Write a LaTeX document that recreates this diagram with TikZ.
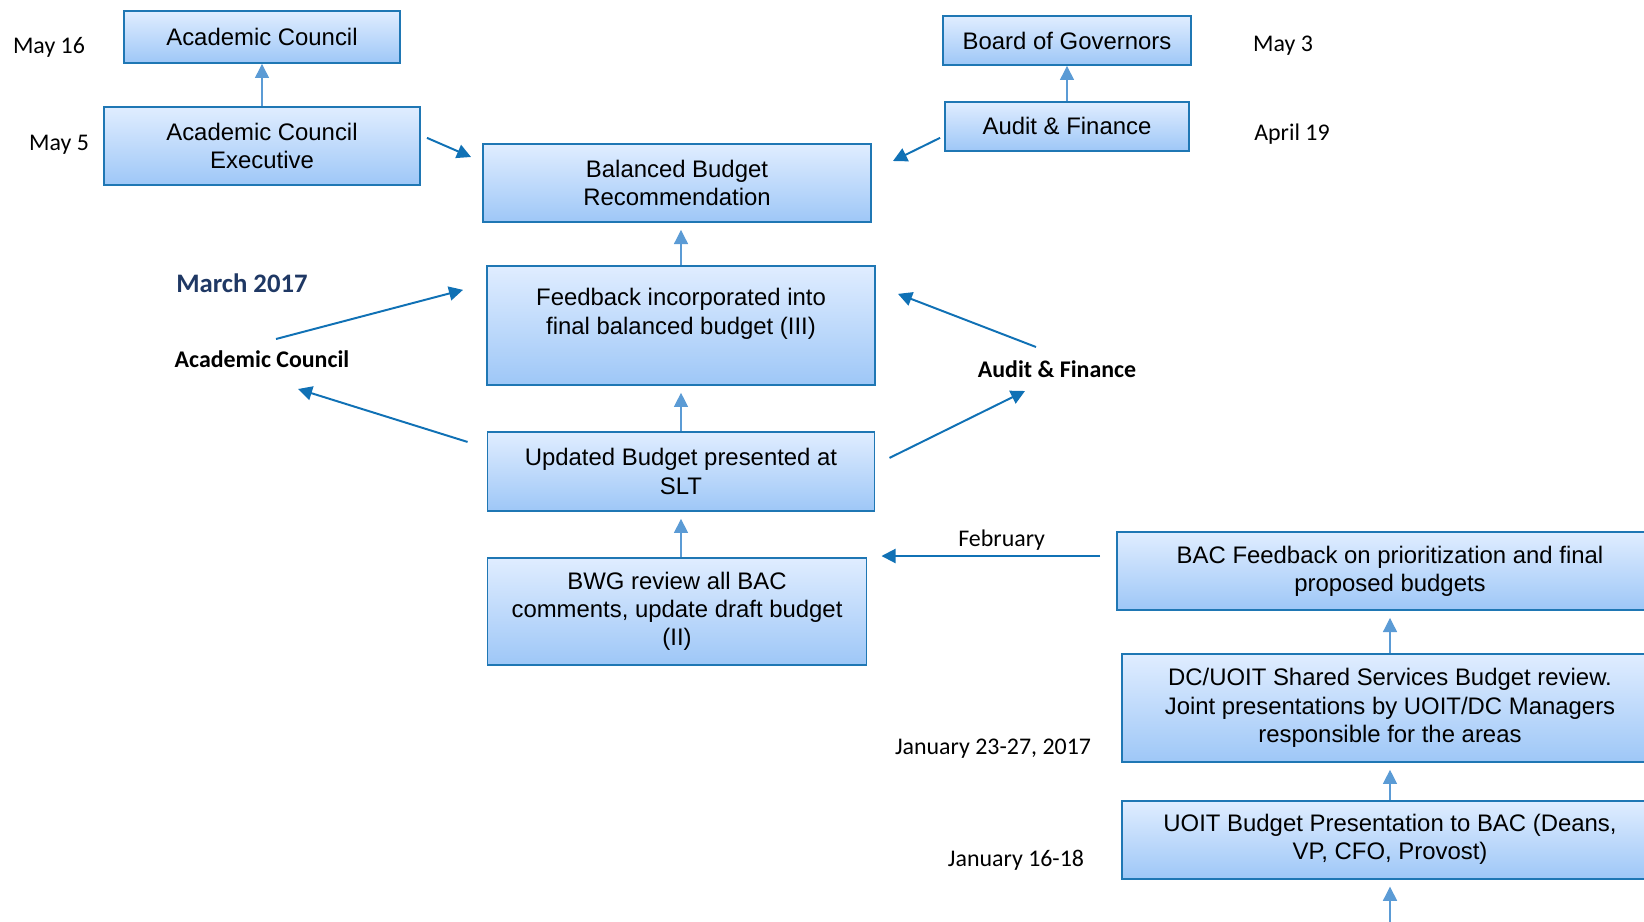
\documentclass[tikz,border=0pt]{standalone}
\usepackage{fontspec}
\setmainfont{Liberation Sans}
\newfontfamily\lblfont{Carlito}
\usetikzlibrary{arrows.meta, positioning}

\definecolor{boxline}{RGB}{31,119,180}
\definecolor{boxtop}{RGB}{224,237,255}
\definecolor{boxbot}{RGB}{158,199,247}
\definecolor{darkarrow}{RGB}{16,113,181}
\definecolor{lightarrow}{RGB}{91,155,213}
\definecolor{navy}{RGB}{31,56,100}

\begin{document}
\begin{tikzpicture}[
    x=0.025cm, y=-0.025cm,
    node distance=1.05cm,
    box/.style={draw=boxline, line width=1.3pt, top color=boxtop, bottom color=boxbot, align=center, inner sep=2pt, font=\fontsize{17}{20}\selectfont},
    lbl/.style={inner sep=1pt, font=\lblfont\fontsize{17}{20}\selectfont},
    bold lbl/.style={inner sep=1pt, font=\lblfont\bfseries\fontsize{17}{20}\selectfont},
    flow/.style={-{Triangle[length=10pt,width=10pt]}, draw=darkarrow, line width=1.4pt},
    rise/.style={-{Triangle[length=10pt,width=10pt]}, draw=lightarrow, line width=0.8pt, shorten >=5pt}
]
    \useasboundingbox (0,0) rectangle (1644,921);

    % Nodes - approval boxes
    \node[box, minimum width=6.9cm, minimum height=1.3cm] (ac) at (262,37) {Academic Council};
    \node[box, minimum width=7.9cm, minimum height=1.95cm, below=1.05cm of ac] (ace) {Academic Council\\Executive};
    \node[box, minimum width=6.2cm, minimum height=1.225cm] (bog) at (1067,40.5) {Board of Governors};
    \node[box, minimum width=6.1cm, minimum height=1.225cm, below=0.875cm of bog] (afb) {Audit \& Finance};

    % Nodes - centre column
    \node[box, minimum width=9.7cm, minimum height=1.95cm] (bbr) at (677,183) {Balanced Budget\\Recommendation};
    \node[box, minimum width=9.7cm, minimum height=2.975cm, below=1.05cm of bbr, xshift=0.1cm] (fb) {Feedback incorporated into\\final balanced budget (III)\\\mbox{}};
    \node[box, minimum width=9.675cm, minimum height=1.975cm, below=1.13cm of fb] (upd) {Updated Budget presented at\\SLT};
    \node[box, minimum width=9.475cm, minimum height=2.675cm, below=1.12cm of upd, xshift=-0.1cm] (bwg) {BWG review all BAC\\comments, update draft budget\\(II)};

    % Nodes - right column
    \node[box, minimum width=13.65cm, minimum height=1.95cm] (bac) at (1390,571) {BAC Feedback on prioritization and final\\proposed budgets};
    \node[box, minimum width=13.4cm, minimum height=2.7cm, below=1.05cm of bac] (dc) {DC/UOIT Shared Services Budget review.\\Joint presentations by UOIT/DC Managers\\responsible for the areas};
    \node[box, minimum width=13.4cm, minimum height=1.95cm, below=0.925cm of dc] (uoit) {UOIT Budget Presentation to BAC (Deans,\\VP, CFO, Provost)};
    \coordinate (entry) at (1390,930);

    % Date labels
    \node[lbl] (may16) at (49,47) {May 16};
    \node[lbl] (may5) at (59,145) {May 5};
    \node[lbl] (may3) at (1283,46) {May 3};
    \node[lbl] (apr19) at (1292,134) {April 19};
    \node[inner sep=1pt, text=navy, font=\lblfont\bfseries\fontsize{19}{22}\selectfont] (mar) at (242,283) {March 2017};
    \node[lbl] (jan23) at (993,749) {January 23-27, 2017};
    \node[lbl] (jan16) at (1016,860) {January 16-18};

    % Committee labels
    \node[bold lbl] (aclbl) at (262,359) {Academic Council};
    \node[bold lbl] (aflbl) at (1057,369) {Audit \& Finance};

    % Arrows - upward steps
    \draw[rise, shorten >=0pt] (ace) -- (ac);
    \draw[rise, shorten >=0pt] (afb.north) -- (afb.north |- bog.south);
    \draw[rise] (fb.north) -- (fb.north |- bbr.south);
    \draw[rise] (upd.north) -- (upd.north |- fb.south);
    \draw[rise] (bwg.north -| upd.south) -- (upd.south);
    \draw[rise] (dc) -- (bac);
    \draw[rise] (uoit) -- (dc);
    \draw[rise] (entry) -- (uoit);

    % Arrows - reviews
    \draw[flow] ([shift={(6,-8)}]ace.east) -- ([shift={(-11,-26)}]bbr.west);
    \draw[flow] ([shift={(-4,11.5)}]afb.west) -- ([shift={(21,-22)}]bbr.east);
    \draw[flow] ([shift={(14,-20)}]aclbl.center) -- ([shift={(-23,-35.5)}]fb.west);
    \draw[flow] ([shift={(-19,-29.5)}]upd.west) -- ([shift={(36,30)}]aclbl.center);
    \draw[flow] ([shift={(-21,-22)}]aflbl.center) -- ([shift={(22,-31.5)}]fb.east);
    \draw[flow] ([shift={(14,-13.5)}]upd.east) -- ([shift={(-32,22)}]aflbl.center);
    \coordinate (febstart) at ([shift={(-16,-15)}]bac.west);
    \coordinate (febend) at ([shift={(14,0)}]bwg.east);
    \draw[flow] (febstart) -- node[lbl, above=2pt, pos=0.45] (feb) {February} (febstart -| febend);
\end{tikzpicture}
\end{document}
